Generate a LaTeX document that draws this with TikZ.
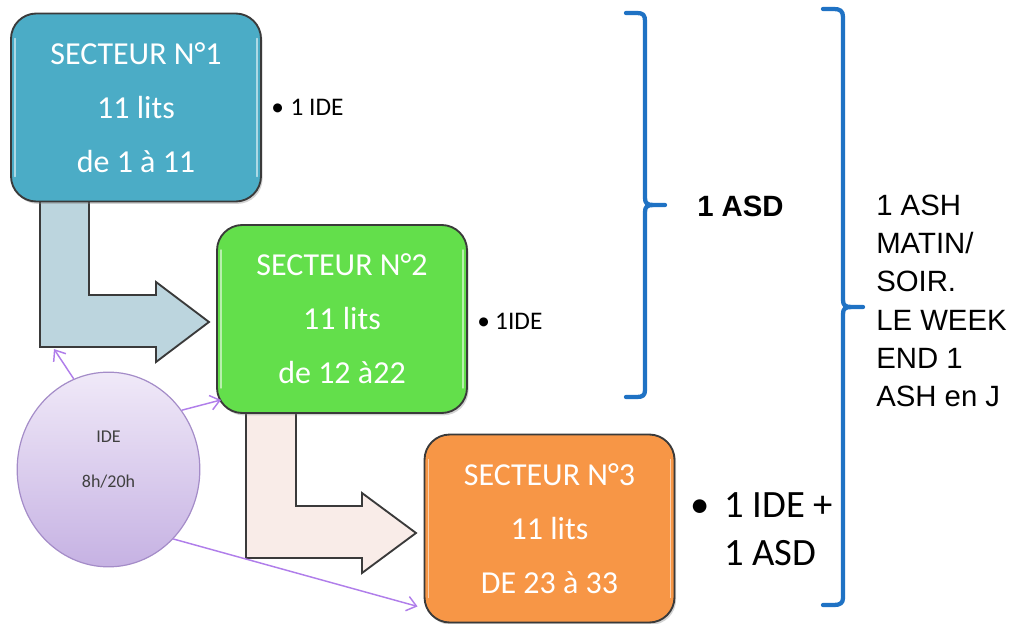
\documentclass[tikz,border=0pt]{standalone}
\usepackage{fontspec}
\setmainfont{Carlito}
\newfontfamily\arialf{Liberation Sans}
\usetikzlibrary{shapes.geometric,arrows.meta,shadows}
\definecolor{boxA}{HTML}{4BACC6}
\definecolor{boxB}{HTML}{63DF4B}
\definecolor{boxC}{HTML}{F79646}
\definecolor{arrA}{HTML}{BCD5DE}
\definecolor{arrB}{HTML}{F9ECE8}
\definecolor{edge}{HTML}{3A3A3A}
\definecolor{ideTop}{HTML}{F0E9F8}
\definecolor{ideBot}{HTML}{C6B2E3}
\definecolor{ideEdge}{HTML}{A48CC8}
\definecolor{conn}{HTML}{B07EEA}
\definecolor{braceblue}{HTML}{1F72C4}
\definecolor{idetext}{HTML}{404040}
\begin{document}
\begin{tikzpicture}[x=0.75pt,y=-0.75pt,
  sector/.style={draw=edge, line width=1.4pt, rounded corners=19pt,
    minimum width=187.5pt, minimum height=141pt, text=white, align=center,
    font=\fontsize{24}{40.5}\selectfont, inner sep=0pt,
    drop shadow={opacity=0.35, shadow xshift=1.2pt, shadow yshift=-1.8pt}},
  bent/.style={draw=edge, line width=1.4pt, line join=miter},
  gloss/.style={white, opacity=0.55, line width=1.2pt, line cap=round},
  connline/.style={conn, line width=1.1pt, -{Straight Barb[length=7pt,width=11pt,line width=1.1pt]}},
  bracestyle/.style={braceblue, line width=3.2pt, line cap=round, line join=round},
  bullettext/.style={inner sep=0pt, anchor=west, text=black}
]
\useasboundingbox (0,0) rectangle (1013,624);

% bent arrows (drawn first, under the boxes)
\draw[bent, fill=arrA] (40,200) -- (89,200) -- (89,295) -- (156,295) -- (156,282)
  -- (209,322) -- (156,362) -- (156,347) -- (40,347) -- cycle;
\draw[bent, fill=arrB] (246,410) -- (296,410) -- (296,506) -- (362,506) -- (362,493)
  -- (416,533) -- (362,573) -- (362,558) -- (246,558) -- cycle;
\coordinate (a1foot) at (54,349);

% sector boxes
\node[sector, fill=boxA] (b1) at (136,107.5) {SECTEUR N°1\\11 lits\\de 1 à 11};
\node[sector, fill=boxB] (b2) at (342,319) {SECTEUR N°2\\11 lits\\de 12 à22};
\node[sector, fill=boxC] (b3) at (549.5,528.5) {SECTEUR N°3\\11 lits\\DE 23 à 33};

\foreach \b in {b1,b2,b3}{
  \draw[gloss] ([shift={(5,26)}]\b.north west) -- ([shift={(5,-26)}]\b.south west);
  \draw[gloss] ([shift={(-5,26)}]\b.north east) -- ([shift={(-5,-26)}]\b.south east);
}

% IDE ellipse
\node[ellipse, draw=ideEdge, line width=0.9pt, top color=ideTop, bottom color=ideBot,
  minimum width=137pt, minimum height=146pt, inner sep=0pt] (ide) at (108.5,469.5) {};
\node[align=center, inner sep=0pt, text=idetext, font=\fontsize{13.5}{34}\selectfont]
  (idelabel) at (108.5,459.5) {IDE\\8h/20h};

\draw[connline] (ide.111) -- (a1foot);
\draw[connline] (ide.39) -- ([shift={(5,-14)}]b2.south west);
\draw[connline] (ide.-47) -- ([shift={(-6,-17)}]b3.south west);

% bullets
\node[bullettext, font=\fontsize{19}{22}\selectfont] (t1) at (271,107) {•\hspace{5pt}1 IDE};
\node[bullettext, font=\fontsize{19}{22}\selectfont] (t2) at (477,321) {•\hspace{4pt}1IDE};
\node[bullettext, font=\fontsize{29}{36}\selectfont, anchor=north west] (t3) at (690,484)
  {\begin{tabular}{@{}l@{\hspace{11pt}}l@{}}•&1 IDE +\\&1 ASD\end{tabular}};

% braces
\draw[bracestyle] (626,13) -- (637,13) .. controls (643,13) and (645,15) .. (645,21) -- (645,198)
  .. controls (645,203) and (647,205) .. (653,205) -- (665,205);
\draw[bracestyle] (653,205) .. controls (647,205) and (645,207) .. (645,212) -- (645,390)
  .. controls (645,395) and (643,397) .. (637,397) -- (626,397);
\draw[bracestyle] (823,9) -- (834,9) .. controls (840,9) and (843,11) .. (843,17) -- (843,300)
  .. controls (843,305) and (845,307) .. (851,307) -- (863,307);
\draw[bracestyle] (851,307) .. controls (845,307) and (843,309) .. (843,314) -- (843,598)
  .. controls (843,603) and (840,605) .. (834,605) -- (823,605);

\node[anchor=west, inner sep=0pt, font=\arialf\bfseries\fontsize{22}{26}\selectfont] (asd) at (697,206) {1 ASD};
\node[anchor=west, inner sep=0pt, align=left, font=\arialf\fontsize{22}{28.7}\selectfont] (ash) at (876,301)
  {1 ASH\\MATIN/\\SOIR.\\LE WEEK\\END 1\\ASH en J};
\end{tikzpicture}
\end{document}
